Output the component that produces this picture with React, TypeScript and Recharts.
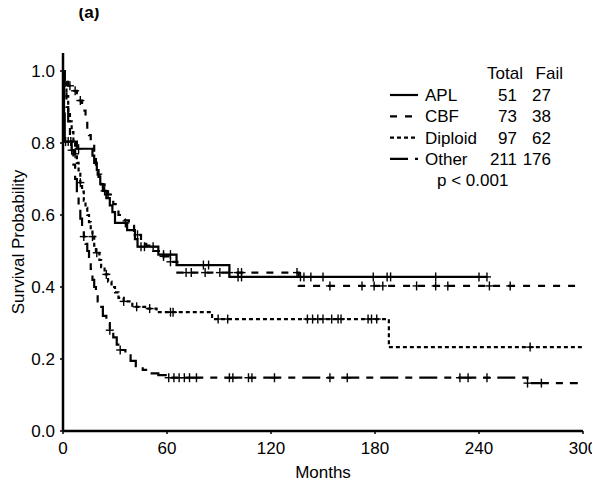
import React from 'react';
import {
  LineChart,
  Line,
  XAxis,
  YAxis,
  Legend,
  Customized,
} from 'recharts';

// group names and summary counts shown in the legend
const groups = ['APL', 'CBF', 'Diploid', 'Other'];
const totals = [51, 73, 97, 211];
const fails = [27, 38, 62, 176];
const dashes = ['0', '7 8', '4 3', '18 7 7 7'];

const xTicks = [0, 60, 120, 180, 240, 300];
const yTicks = [0, 0.2, 0.4, 0.6, 0.8, 1.0];

// Kaplan-Meier steps (months, survival) and censoring times
const aplTime = [0, 0.3, 0.6, 1, 8, 17, 18, 19.5, 20.5, 21.5, 23, 25, 27, 28.5, 30, 37, 41.5, 43, 55, 65.5, 96];
const aplSurv = [1, 0.96, 0.882, 0.804, 0.784, 0.765, 0.745, 0.725, 0.706, 0.686, 0.667, 0.647, 0.627, 0.608, 0.578, 0.558, 0.533, 0.512, 0.49, 0.461, 0.428];
const aplCens = [1.5, 3, 4.5, 9, 24, 36, 45, 47, 52, 58, 62, 81, 84, 101, 103, 137, 139, 143, 150, 179, 187, 189, 215, 240, 244.6];

const cbfTime = [0, 1, 3, 5, 8, 11, 13, 14, 15, 16, 18, 19, 20, 22, 24, 26, 29, 32, 35, 38, 41, 45, 48, 52, 56, 62, 66, 136];
const cbfSurv = [1, 0.986, 0.959, 0.945, 0.918, 0.89, 0.863, 0.836, 0.822, 0.795, 0.767, 0.74, 0.712, 0.685, 0.67, 0.657, 0.63, 0.6, 0.585, 0.57, 0.545, 0.53, 0.515, 0.5, 0.485, 0.47, 0.44, 0.403];
const cbfCens = [4, 7, 10, 26, 43, 58, 62, 71, 74, 82, 90.5, 96, 101, 103, 135, 154, 172.5, 179.5, 184.5, 204, 215, 222, 246, 258];

const dipTime = [0, 1, 2, 3, 4, 5, 6, 7, 8, 9, 10, 11, 12, 13, 14, 15, 16, 17, 18, 19, 21, 22, 24, 26, 28, 30, 32, 35, 40, 48, 54, 86, 188];
const dipSurv = [1, 0.97, 0.93, 0.89, 0.86, 0.83, 0.8, 0.77, 0.745, 0.72, 0.69, 0.665, 0.64, 0.62, 0.6, 0.58, 0.56, 0.54, 0.515, 0.495, 0.475, 0.455, 0.435, 0.415, 0.4, 0.385, 0.37, 0.36, 0.345, 0.34, 0.33, 0.311, 0.233];
const dipCens = [7, 10, 17, 19.5, 25, 35, 42.5, 50, 62, 63.5, 89.5, 95, 141, 144, 147, 150, 155, 158.7, 160.4, 176, 178, 181, 269.5];

const othTime = [0, 1, 2, 3, 4, 5, 6, 7, 8, 9, 10, 11, 12, 13, 14, 15, 16, 17, 18, 19, 20, 21, 23, 25, 27, 29, 31, 33, 36, 39, 42, 46, 50, 55, 60, 268];
const othSurv = [1, 0.95, 0.9, 0.86, 0.82, 0.78, 0.74, 0.7, 0.66, 0.62, 0.59, 0.56, 0.54, 0.52, 0.5, 0.48, 0.45, 0.42, 0.4, 0.38, 0.36, 0.345, 0.32, 0.3, 0.28, 0.26, 0.24, 0.225, 0.21, 0.195, 0.18, 0.17, 0.16, 0.155, 0.148, 0.133];
const othCens = [5, 12, 27, 33, 61, 64, 67, 70, 73, 77, 96, 98, 107, 109, 122, 154, 164, 229, 233.7, 244.6, 268, 276];

const lastTime = [244.6, 298, 300, 297];

type Pt = { t: number; s: number; c: boolean };

// step function value at time t
const survAt = (times: number[], surv: number[], t: number) => {
  let v = surv[0];
  for (let i = 0; i < times.length; i++) {
    if (times[i] <= t) v = surv[i];
  }
  return v;
};

const build = (times: number[], surv: number[], cens: number[], end: number): Pt[] => {
  const pts: Pt[] = times.map((t, i) => ({ t, s: surv[i], c: false }));
  cens.forEach((t) => pts.push({ t, s: survAt(times, surv, t), c: true }));
  if (!cens.includes(end)) pts.push({ t: end, s: survAt(times, surv, end), c: false });
  return pts.sort((a, b) => a.t - b.t);
};

const series = [
  build(aplTime, aplSurv, aplCens, lastTime[0]),
  build(cbfTime, cbfSurv, cbfCens, lastTime[1]),
  build(dipTime, dipSurv, dipCens, lastTime[2]),
  build(othTime, othSurv, othCens, lastTime[3]),
];

const font = 'Liberation Sans, Arial, sans-serif';

const censorMark = (props: any) => {
  const { cx, cy, payload, index } = props;
  if (!payload || !payload.c || cx == null) return <g key={`n-${index}`} />;
  return (
    <g key={`c-${index}`}>
      <line x1={cx} y1={cy - 4.5} x2={cx} y2={cy + 4.5} stroke="#000" strokeWidth={1.4} />
      <line x1={cx - 4} y1={cy} x2={cx + 4} y2={cy} stroke="#000" strokeWidth={1.4} />
    </g>
  );
};

const LegendTable = () => (
  <svg width={200} height={130} style={{ fontFamily: font, fontSize: 17 }}>
    <text x={140} y={19} textAnchor="end">Total</text>
    <text x={180} y={19} textAnchor="end">Fail</text>
    {groups.map((g, i) => {
      const y = 35 + i * 21.3;
      return (
        <g key={g}>
          <line x1={7} x2={35} y1={y} y2={y} stroke="#000" strokeWidth={2.2} strokeDasharray={dashes[i]} />
          <text x={42} y={y + 6}>{g}</text>
          <text x={134} y={y + 6} textAnchor="end">{totals[i]}</text>
          <text x={168} y={y + 6} textAnchor="end">{fails[i]}</text>
        </g>
      );
    })}
    <text x={54} y={126}>p &lt; 0.001</text>
  </svg>
);

const Title = () => (
  <text x={89} y={18} textAnchor="middle" fontFamily={font} fontSize={17} fontWeight="bold">
    (a)
  </text>
);

const App = () => {
  return (
    <div style={{ margin: -8 }}>
      <LineChart width={600} height={487} margin={{ top: 53, right: 17, left: 13, bottom: 0 }}>
        <XAxis
          type="number"
          dataKey="t"
          domain={[0, 300]}
          ticks={xTicks}
          allowDataOverflow
          height={56}
          tickSize={3}
          tickMargin={8}
          axisLine={{ stroke: '#000', strokeWidth: 2.5 }}
          tickLine={{ stroke: '#000', strokeWidth: 1.5 }}
          tick={{ fill: '#000', fontSize: 17, fontFamily: font }}
          label={{ value: 'Months', position: 'insideBottom', offset: 9, fill: '#000', fontSize: 17, fontFamily: font }}
        />
        <YAxis
          type="number"
          dataKey="s"
          domain={[0, 1.05]}
          ticks={yTicks}
          allowDataOverflow
          width={50}
          tickSize={3}
          tickMargin={5}
          tickFormatter={(v: number) => v.toFixed(1)}
          axisLine={{ stroke: '#000', strokeWidth: 2.5 }}
          tickLine={{ stroke: '#000', strokeWidth: 1.5 }}
          tick={{ fill: '#000', fontSize: 17, fontFamily: font }}
          label={{
            value: 'Survival Probability',
            angle: -90,
            position: 'insideLeft',
            offset: 5,
            fill: '#000',
            fontSize: 17,
            fontFamily: font,
            style: { textAnchor: 'middle' },
          }}
        />
        {series.map((data, i) => (
          <Line
            key={groups[i]}
            name={groups[i]}
            data={data}
            dataKey="s"
            type="stepAfter"
            stroke="#000"
            strokeWidth={2.2}
            strokeDasharray={dashes[i]}
            dot={censorMark}
            activeDot={false}
            isAnimationActive={false}
          />
        ))}
        <Legend
          layout="vertical"
          align="center"
          verticalAlign="middle"
          content={LegendTable}
          wrapperStyle={{ top: 60, left: 383, width: 200, height: 130 }}
        />
        <Customized component={Title} />
      </LineChart>
    </div>
  );
};

export default App;
